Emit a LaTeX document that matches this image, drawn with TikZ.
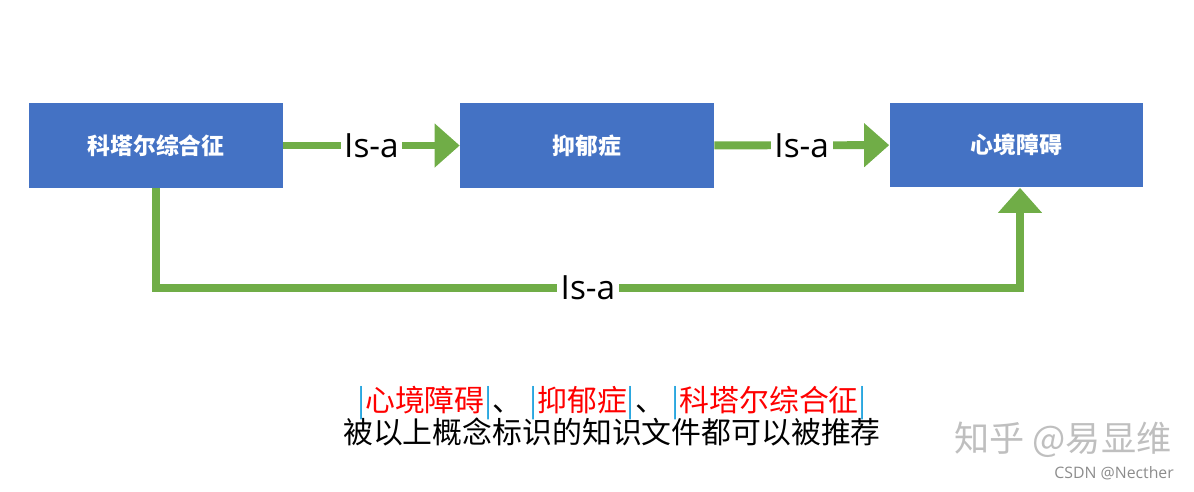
\documentclass[tikz,border=0pt]{standalone}
\usepackage{fontspec}
\setmainfont{Noto Sans CJK SC}
\newfontfamily\latinfont{Open Sans}
\usepackage{xcolor}
\usetikzlibrary{arrows.meta,positioning}
\definecolor{boxblue}{HTML}{4472C4}
\definecolor{linkgreen}{HTML}{70AD47}
\definecolor{barblue}{HTML}{2AA7DF}
\tikzset{
  concept/.style={fill=boxblue,text=white,minimum width=5.08cm,minimum height=1.7cm,font=\bfseries\fontsize{13}{15}\selectfont},
  isa/.style={draw=linkgreen,line width=4.5pt,-{Triangle[length=0.5cm,width=0.85cm]}},
  isalabel/.style={fill=white,font=\latinfont\fontsize{19}{22}\selectfont,inner sep=2pt}
}
\newcommand{\tagbar}{\textcolor{barblue}{|}}
\begin{document}
\begin{tikzpicture}[x=0.02cm,y=-0.02cm]
    \useasboundingbox (0,0) rectangle (1194,491);
    % Concepts
    \node[concept] (ktr) at (156,145.5) {科塔尔综合征};
    \node[concept] (yyz) at (587,145.5) {抑郁症};
    \node[concept] (xjza) at (1016.5,145) {心境障碍};
    % Is-a links
    \draw[isa] (ktr) -- node[isalabel] {Is-a} (yyz);
    \draw[isa] (yyz) -- node[isalabel] {Is-a} (xjza);
    \coordinate (c1) at (156,288);
    \coordinate (c2) at (1020,288);
    \draw[isa] (ktr.south) -- (c1) -- node[isalabel,pos=0.5] {Is-a} (c2) -- (xjza.south -| c2);
    % Caption
    \node[font=\fontsize{17}{20}\selectfont,align=center,inner sep=0pt] (note) at (612,416)
      {\tagbar\textcolor{red}{心境障碍}\tagbar、\ \tagbar\textcolor{red}{抑郁症}\tagbar、\ \tagbar\textcolor{red}{科塔尔综合征}\tagbar\\[-2pt]
       被以上概念标识的知识文件都可以被推荐};
    % Watermarks
    \node[text=black!25,font=\fontsize{20}{22}\selectfont] (zh) at (1063,440) {知乎 @易显维};
    \node[text=black!45,font=\latinfont\fontsize{9}{10}\selectfont,anchor=east] (csdn) at (1180,473) {CSDN @Necther};
\end{tikzpicture}
\end{document}
